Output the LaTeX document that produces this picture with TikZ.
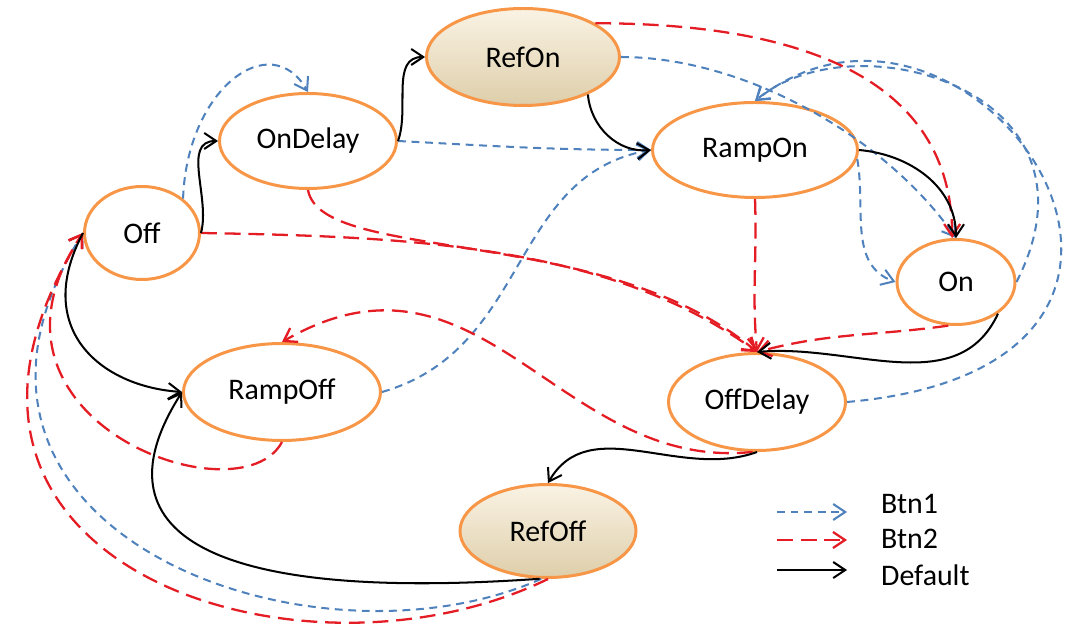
\documentclass[tikz,border=0pt]{standalone}
\usepackage{fontspec}
\setmainfont{Carlito}
\usepackage{tikz}
\usetikzlibrary{shapes.geometric,arrows.meta}
\definecolor{stateorange}{RGB}{247,150,70}
\definecolor{btnblue}{RGB}{79,129,189}
\definecolor{btnred}{RGB}{228,28,36}
\definecolor{tantop}{RGB}{250,243,228}
\definecolor{tanbot}{RGB}{222,206,170}

\begin{document}
\begin{tikzpicture}[>={Straight Barb[length=2.4mm,width=3.2mm]},
  st/.style={ellipse,draw=stateorange,line width=1.7pt,inner sep=0pt,font=\fontsize{17}{20}\selectfont},
  refst/.style={st,top color=tantop,bottom color=tanbot},
  btnone/.style={draw=btnblue,line width=1.15pt,dash pattern=on 4.5pt off 3.2pt,->},
  btntwo/.style={draw=btnred,line width=1.3pt,dash pattern=on 9pt off 4.5pt,->},
  dflt/.style={draw=black,line width=1.15pt,->}]
\useasboundingbox (0,0) rectangle (21.4,12.5);

% states
\node [st,minimum width=2.3cm,minimum height=1.86cm] (off) at(2.84,7.84){Off};
\node [st,minimum width=3.54cm,minimum height=1.9cm] (ondelay) at(6.16,9.68){OnDelay};
\node [refst,minimum width=3.86cm,minimum height=1.94cm] (refon) at(10.46,11.36){RefOn};
\node [st,minimum width=4.1cm,minimum height=1.9cm] (rampon) at(15.1,9.5){RampOn};
\node [st,minimum width=2.36cm,minimum height=1.7cm] (on) at(19.12,6.86){On};
\node [st,minimum width=3.94cm,minimum height=1.94cm] (rampoff) at(5.64,4.66){RampOff};
\node [st,minimum width=3.54cm,minimum height=1.94cm] (offdelay) at(15.14,4.46){OffDelay};
\node [refst,minimum width=3.52cm,minimum height=1.86cm] (refoff) at(10.96,1.88){RefOff};

% Btn1
\draw[btnone](off.40) to[out=88,in=120,out distance=2.2cm,in distance=1.5cm] (ondelay.north);
\draw[btnone](ondelay.east) to[out=-3,in=180] (rampon.west);
\draw[btnone](rampoff.east) to[out=16,in=190,out distance=3.1cm,in distance=2.9cm] (rampon.west);
\draw[btnone](refon.east) to[out=0,in=125,out distance=2.4cm,in distance=2.56cm] (on.north);
\draw[btnone](rampon.-5) to[out=-80,in=160] (on.west);
\draw[btnone](on.east) to[out=63,in=40,out distance=4.3cm,in distance=2.6cm] (rampon.north);
\draw[btnone](offdelay.east) to[out=5,in=38,out distance=8.5cm,in distance=5.5cm] (rampon.north);
\draw[btnone](refoff.-98) to[out=204,in=-122,out distance=5.06cm,in distance=7cm] (off.west);

% Btn2
\draw[btntwo](refon.25) to[out=0,in=90,out distance=4.1cm,in distance=3.2cm] (on.95);
\draw[btntwo](rampon.south) to[out=-88,in=95] (offdelay.north);
\draw[btntwo](ondelay.south) to[out=-80,in=140,out distance=1.5cm,in distance=4cm] (offdelay.north);
\draw[btntwo](off.east) to[out=-1,in=144,out distance=4cm,in distance=3.7cm] (offdelay.north);
\draw[btntwo](on.-100) to[out=188,in=15] (offdelay.north);
\draw[btntwo](offdelay.-95) to[out=186,in=30,out distance=3.9cm,in distance=4.6cm] (rampoff.north);
\draw[btntwo](rampoff.south) to[out=-118,in=-124,out distance=1.8cm,in distance=4.5cm] (off.west);
\draw[btntwo](refoff.-90) to[out=206,in=-122,out distance=5.56cm,in distance=7.77cm] (off.west);

% Default
\draw[dflt](off.east) to[out=75,in=180] (ondelay.west);
\draw[dflt](ondelay.east) to[out=70,in=180] (refon.west);
\draw[dflt](refon.-30) to[out=-85,in=185] (rampon.west);
\draw[dflt](rampon.east) to[out=-5,in=90] (on.north);
\draw[dflt](on.-37) to[out=-115,in=5] (offdelay.north);
\draw[dflt](offdelay.south) to[out=-160,in=60] (refoff.north);
\draw[dflt](refoff.-100) to[out=184,in=-122,out distance=9.6cm,in distance=1.34cm] (rampoff.west);
\draw[dflt](off.west) to[out=-118,in=176,out distance=2.15cm,in distance=1.66cm] (rampoff.west);

% legend
\coordinate (ka1) at (15.54,2.26); \coordinate (kb1) at (16.94,2.26);
\coordinate (ka2) at (15.54,1.70); \coordinate (kb2) at (16.94,1.70);
\coordinate (ka3) at (15.54,1.10); \coordinate (kb3) at (16.94,1.10);
\draw[btnone](ka1) -- (kb1);
\draw[btntwo](ka2) -- (kb2);
\draw[dflt](ka3) -- (kb3);
\node [anchor=west,font=\fontsize{17}{20}\selectfont] (k1) at(17.5,2.42){Btn1};
\node [anchor=west,font=\fontsize{17}{20}\selectfont] (k2) at(17.5,1.72){Btn2};
\node [anchor=west,font=\fontsize{17}{20}\selectfont] (k3) at(17.5,1.0){Default};
\end{tikzpicture}
\end{document}
